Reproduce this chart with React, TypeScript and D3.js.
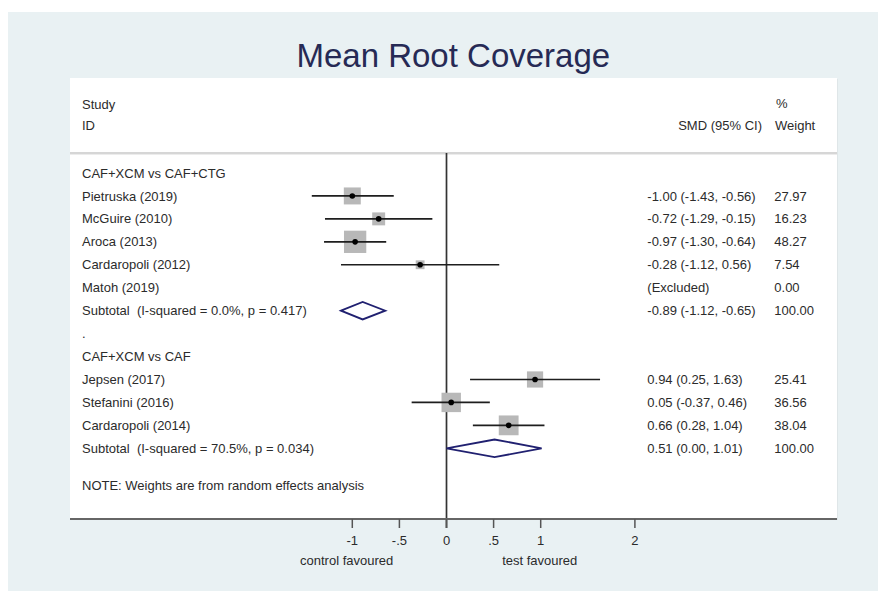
import React from "react";
import * as d3 from "d3";

const titleText = "Mean Root Coverage";

const group1Label = "CAF+XCM vs CAF+CTG";
const group1Studies = ["Pietruska (2019)", "McGuire (2010)", "Aroca (2013)", "Cardaropoli (2012)", "Matoh (2019)"];
const group1Est: (number | null)[] = [-1.0, -0.72, -0.97, -0.28, null];
const group1Lo: (number | null)[] = [-1.43, -1.29, -1.3, -1.12, null];
const group1Hi: (number | null)[] = [-0.56, -0.15, -0.64, 0.56, null];
const group1Weight = [27.97, 16.23, 48.27, 7.54, 0.0];
const group1Subtotal = { label: "Subtotal  (I-squared = 0.0%, p = 0.417)", est: -0.89, lo: -1.12, hi: -0.65, weight: 100.0 };

const group2Label = "CAF+XCM vs CAF";
const group2Studies = ["Jepsen (2017)", "Stefanini (2016)", "Cardaropoli (2014)"];
const group2Est: (number | null)[] = [0.94, 0.05, 0.66];
const group2Lo: (number | null)[] = [0.25, -0.37, 0.28];
const group2Hi: (number | null)[] = [1.63, 0.46, 1.04];
const group2Weight = [25.41, 36.56, 38.04];
const group2Subtotal = { label: "Subtotal  (I-squared = 70.5%, p = 0.034)", est: 0.51, lo: 0.0, hi: 1.01, weight: 100.0 };

const noteText = "NOTE: Weights are from random effects analysis";

const tickValues = [-1, -0.5, 0, 0.5, 1, 2];
const tickLabels = ["-1", "-.5", "0", ".5", "1", "2"];
const favourLabels = ["control favoured", "test favoured"];
const favourPos = [-1.06, 0.99];

const FONT = "'Liberation Sans', Arial, Helvetica, sans-serif";
const TEXT = "#2b2b2b";

type Row =
  | { kind: "group"; label: string; row: number }
  | { kind: "study"; label: string; row: number; est: number | null; lo: number | null; hi: number | null; w: number }
  | { kind: "subtotal"; label: string; row: number; est: number; lo: number; hi: number; w: number }
  | { kind: "blank"; label: string; row: number };

function buildRows(): Row[] {
  const rows: Row[] = [];
  let r = 0;
  rows.push({ kind: "group", label: group1Label, row: r++ });
  group1Studies.forEach((s, i) =>
    rows.push({ kind: "study", label: s, row: r++, est: group1Est[i], lo: group1Lo[i], hi: group1Hi[i], w: group1Weight[i] })
  );
  rows.push({ kind: "subtotal", label: group1Subtotal.label, row: r++, est: group1Subtotal.est, lo: group1Subtotal.lo, hi: group1Subtotal.hi, w: group1Subtotal.weight });
  rows.push({ kind: "blank", label: ".", row: r++ });
  rows.push({ kind: "group", label: group2Label, row: r++ });
  group2Studies.forEach((s, i) =>
    rows.push({ kind: "study", label: s, row: r++, est: group2Est[i], lo: group2Lo[i], hi: group2Hi[i], w: group2Weight[i] })
  );
  rows.push({ kind: "subtotal", label: group2Subtotal.label, row: r++, est: group2Subtotal.est, lo: group2Subtotal.lo, hi: group2Subtotal.hi, w: group2Subtotal.weight });
  return rows;
}

const f2 = (v: number) => v.toFixed(2);

export default function App() {
  const W = 878;
  const H = 591;
  const panel = { x0: 70, x1: 837, y0: 78, y1: 519, sep: 153 };
  const x = d3.scaleLinear().domain([-1, 2]).range([352.3, 634.9]);
  const y = d3.scaleLinear().domain([0, 12]).range([173, 448.3]);
  const box = d3.scaleSqrt().domain([0, 48.27]).range([0, 22.3]);
  const rows = buildRows();
  const colLabel = 82;
  const colCI = 647.3;
  const colW = 774.3;
  const base = 4.6;
  const dh = 8.8;

  return (
    <svg width={W} height={H} style={{ position: "absolute", left: 0, top: 0 }} fontFamily={FONT}>
      <rect x={0} y={0} width={W} height={H} fill="#ffffff" />
      <rect x={8} y={12} width={W - 8} height={H - 12} fill="#e9f1f3" />
      <text x={453.3} y={66.5} textAnchor="middle" fontSize={33} fill="#262a55">
        {titleText}
      </text>
      {/* panel */}
      <rect x={panel.x0 + 1} y={panel.y0 + 1} width={panel.x1 - panel.x0} height={panel.y1 - panel.y0} fill="#dfe6e8" />
      <rect x={panel.x0} y={panel.y0} width={panel.x1 - panel.x0} height={panel.y1 - panel.y0} fill="#ffffff" />
      <line x1={panel.x0} x2={panel.x1} y1={panel.sep} y2={panel.sep} stroke="#c9c9c9" strokeWidth={1.5} />
      <line x1={panel.x0} x2={panel.x1} y1={panel.sep + 1.5} y2={panel.sep + 1.5} stroke="#ececec" strokeWidth={1} />

      {/* headers */}
      <g fontSize={13} fill={TEXT}>
        <text x={colLabel} y={104 + base}>Study</text>
        <text x={colLabel} y={125 + base}>ID</text>
        <text x={762} y={125 + base} textAnchor="end">SMD (95% CI)</text>
        <text x={776} y={103 + base}>%</text>
        <text x={775} y={125 + base}>Weight</text>
      </g>

      {/* zero line */}
      <line x1={x(0)} x2={x(0)} y1={panel.sep} y2={528} stroke="#333333" strokeWidth={1.7} />

      {/* rows */}
      {rows.map((r, i) => {
        const cy = y(r.row);
        const items: React.ReactNode[] = [];
        items.push(
          <text key="l" x={colLabel} y={cy + base} fontSize={13} fill={TEXT} style={{ whiteSpace: "pre" }}>
            {r.label}
          </text>
        );
        if (r.kind === "study") {
          if (r.est !== null && r.lo !== null && r.hi !== null) {
            const s = box(r.w);
            items.push(<rect key="b" x={x(r.est) - s / 2} y={cy - s / 2} width={s} height={s} fill="#b8b8b8" />);
            items.push(<line key="ci" x1={x(r.lo)} x2={x(r.hi)} y1={cy} y2={cy} stroke="#1e1e1e" strokeWidth={1.7} />);
            items.push(<circle key="p" cx={x(r.est)} cy={cy} r={2.8} fill="#000" />);
            items.push(
              <text key="c" x={colCI} y={cy + base} fontSize={13} fill={TEXT}>
                {`${f2(r.est)} (${f2(r.lo)}, ${f2(r.hi)})`}
              </text>
            );
          } else {
            items.push(
              <text key="c" x={colCI} y={cy + base} fontSize={13} fill={TEXT}>
                (Excluded)
              </text>
            );
          }
          items.push(
            <text key="w" x={colW} y={cy + base} fontSize={13} fill={TEXT}>
              {f2(r.w)}
            </text>
          );
        }
        if (r.kind === "subtotal") {
          const pts = [
            [x(r.lo), cy],
            [x(r.est), cy - dh],
            [x(r.hi), cy],
            [x(r.est), cy + dh],
          ];
          items.push(
            <path key="d" d={(d3.line()(pts as [number, number][]) || "") + "Z"} fill="none" stroke="#202070" strokeWidth={1.8} />
          );
          items.push(
            <text key="c" x={colCI} y={cy + base} fontSize={13} fill={TEXT}>
              {`${f2(r.est)} (${f2(r.lo)}, ${f2(r.hi)})`}
            </text>
          );
          items.push(
            <text key="w" x={colW} y={cy + base} fontSize={13} fill={TEXT}>
              {f2(r.w)}
            </text>
          );
        }
        return <g key={i}>{items}</g>;
      })}

      <text x={colLabel} y={y(13.6) + base} fontSize={13} fill={TEXT}>
        {noteText}
      </text>

      {/* axis */}
      <line x1={panel.x0} x2={panel.x1} y1={panel.y1} y2={panel.y1} stroke="#666666" strokeWidth={2} />
      {tickValues.map((t, i) => (
        <g key={i}>
          <line x1={x(t)} x2={x(t)} y1={panel.y1} y2={528} stroke="#555555" strokeWidth={1.5} />
          <text x={x(t)} y={544.5} textAnchor="middle" fontSize={13} fill={TEXT}>
            {tickLabels[i]}
          </text>
        </g>
      ))}
      {favourLabels.map((l, i) => (
        <text key={i} x={x(favourPos[i])} y={564.5} textAnchor="middle" fontSize={13} fill={TEXT}>
          {l}
        </text>
      ))}
    </svg>
  );
}
